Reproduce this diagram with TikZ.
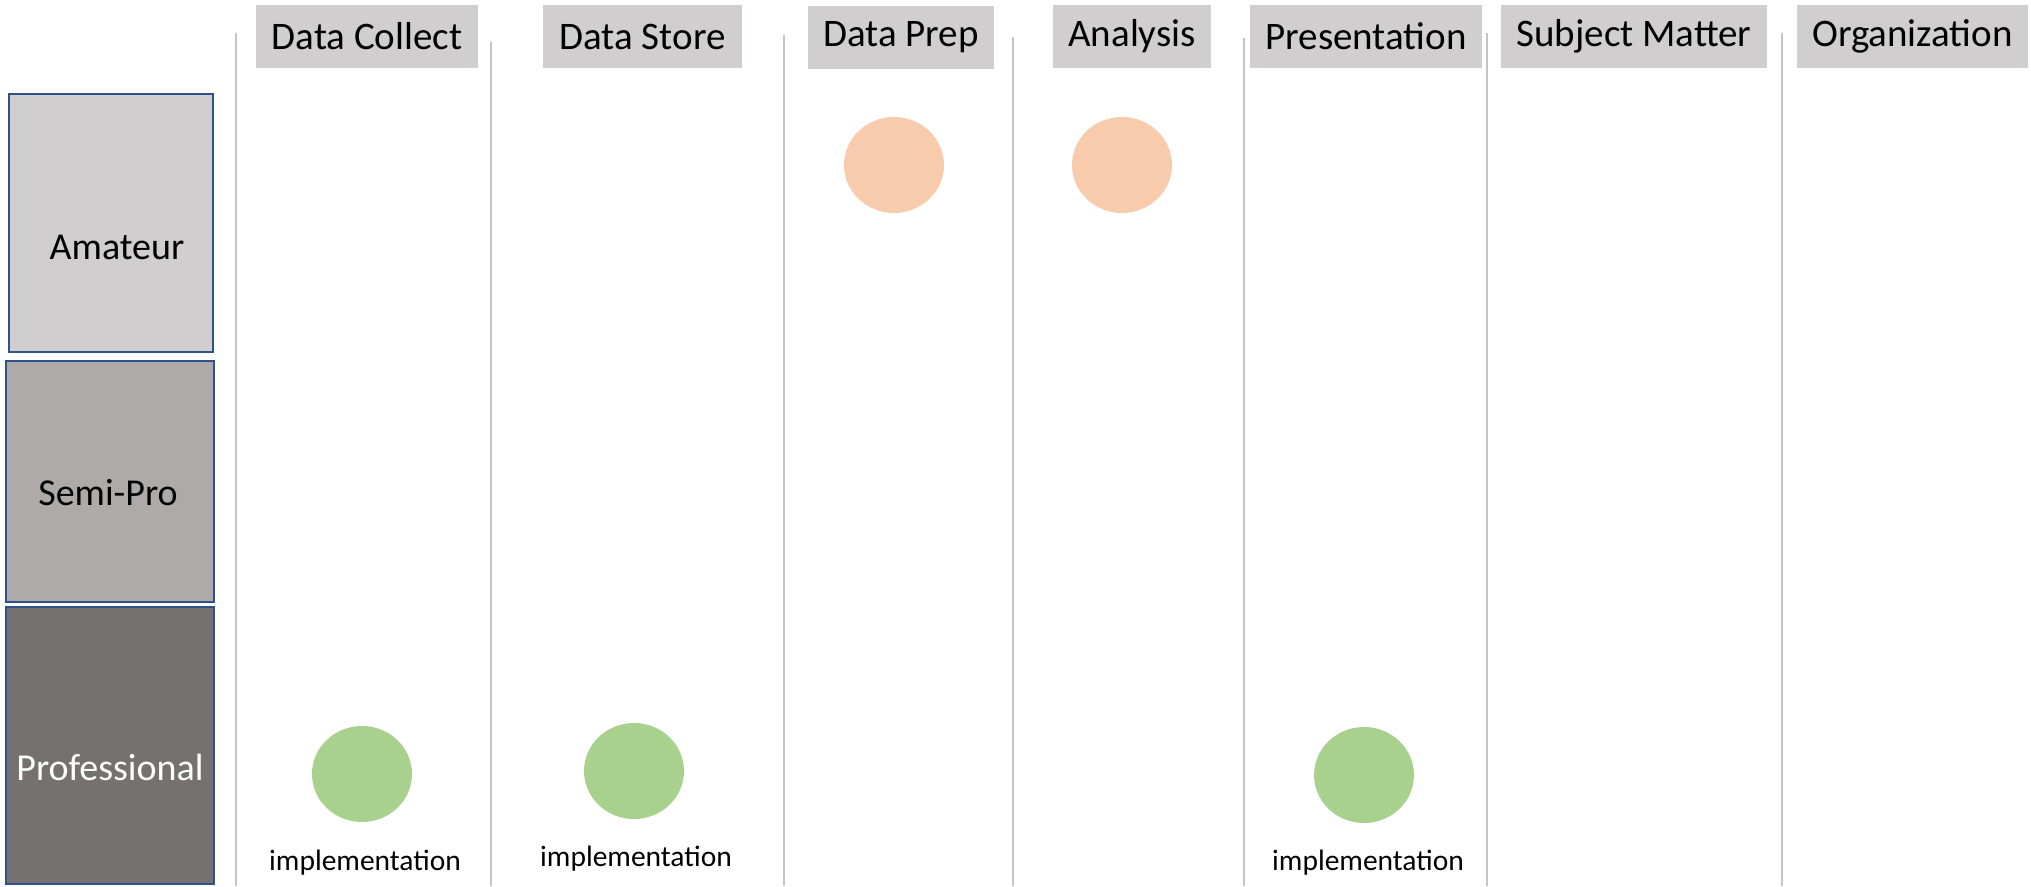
\documentclass[tikz,border=0pt]{standalone}
\usepackage{fontspec}
\setmainfont{Carlito}
\usetikzlibrary{shapes.geometric}
\definecolor{headgray}{HTML}{D0CECE}
\definecolor{amgray}{HTML}{D0CECE}
\definecolor{semigray}{HTML}{AEAAAA}
\definecolor{progray}{HTML}{757171}
\definecolor{rowblue}{HTML}{2F528F}
\definecolor{linegray}{HTML}{C4C4C4}
\definecolor{dotorange}{HTML}{F8CBAD}
\definecolor{dotgreen}{HTML}{A9D18E}
\begin{document}
\begin{tikzpicture}[x=1pt, y=-1pt,
		head/.style={fill=headgray, minimum height=63pt, inner sep=0pt, font=\fontsize{39}{47}\selectfont},
		rowbox/.style={draw=rowblue, line width=1.5pt, inner sep=0pt},
		rowtext/.style={font=\fontsize{38}{46}\selectfont},
		dot/.style={ellipse, minimum width=100pt, minimum height=96pt, inner sep=0pt},
		impl/.style={font=\fontsize{29.5}{35}\selectfont}]
			\useasboundingbox (0,0) rectangle (2031,886);
			% column separators
			\foreach \x/\y in {236/33, 491/42, 784/35, 1013/37, 1244/38, 1487/33, 1782/33}
				\draw[linegray, line width=1.2pt] (\x,\y) -- (\x,886);
			% column heads
			\node[head, minimum width=222pt] (collect) at (367,36.5) {Data Collect};
			\node[head, minimum width=199pt] (store) at (642.5,36.5) {Data Store};
			\node[head, minimum width=186pt] (prep) at (901,37.5) {Data Prep};
			\node[head, minimum width=158pt] (analysis) at (1132,36.5) {Analysis};
			\node[head, minimum width=232pt] (present) at (1366,36.5) {Presentation};
			\node[head, minimum width=266pt] (subject) at (1634,36.5) {Subject Matter};
			\node[head, minimum width=231pt] (org) at (1912.5,36.5) {Organization};
			% row heads
			\node[rowbox, fill=amgray, minimum width=204pt, minimum height=258pt] (amateur) at (111,223) {};
			\node[rowbox, fill=semigray, minimum width=208pt, minimum height=241pt] (semipro) at (110,481.5) {};
			\node[rowbox, fill=progray, minimum width=208pt, minimum height=277pt] (pro) at (110,745.5) {};
			\node[rowtext] (amateurtxt) at (117,247) {Amateur};
			\node[rowtext] (semiprotxt) at (108,493) {Semi-Pro};
			\node[rowtext, text=white] (protxt) at (110,767) {Professional};
			% marks
			\node[dot, fill=dotorange] (prepdot) at (894,165) {};
			\node[dot, fill=dotorange] (analysisdot) at (1122,165) {};
			\node[dot, fill=dotgreen] (collectdot) at (362,774) {};
			\node[dot, fill=dotgreen] (storedot) at (634,771) {};
			\node[dot, fill=dotgreen] (presentdot) at (1364,775) {};
			\node[impl] (collectimpl) at (365,863) {implementation};
			\node[impl] (storeimpl) at (636,859) {implementation};
			\node[impl] (presentimpl) at (1368,863) {implementation};
\end{tikzpicture}
\end{document}
